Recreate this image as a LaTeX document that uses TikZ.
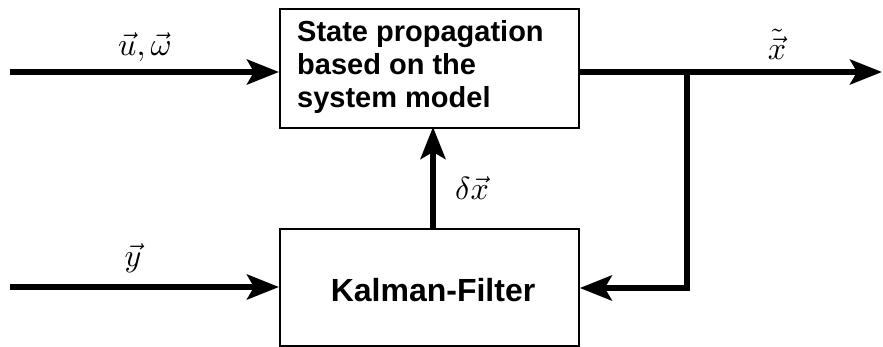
\documentclass[tikz,border=0pt]{standalone}
\usepackage{graphicx}
\usepackage{fontspec}
\setsansfont{Liberation Sans}
\usetikzlibrary{arrows.meta}
\newcommand{\mylbl}[1]{\scalebox{3.2}{$#1$}}
\begin{document}
\begin{tikzpicture}[x=1pt,y=-1pt,
  blockbox/.style={draw,line width=1.8pt,inner sep=0pt,anchor=north west},
  flow/.style={line width=5.5pt,-{Stealth[length=32pt,width=25pt,inset=7pt]}},
  wire/.style={line width=5.5pt,line join=round},
  lbl/.style={inner sep=0pt}]
\useasboundingbox (0,0) rectangle (883,347);
\node[blockbox,minimum width=299pt,minimum height=119pt] (sp) at (279,8) {};
\node[font=\sffamily\bfseries\fontsize{29}{33}\selectfont,align=left,anchor=north west,inner sep=0pt] (sptext) at (297,20) {State propagation\\based on the\\system model};
\node[blockbox,minimum width=299pt,minimum height=117pt] (kf) at (279,228) {};
\node[font=\sffamily\bfseries\fontsize{32}{36}\selectfont,inner sep=0pt] (kftext) at (433,290) {Kalman-Filter};
\coordinate (inA) at (10,72);
\coordinate (inB) at (10,287);
\coordinate (outE) at (882,72);
\coordinate (br) at (687,72);
\coordinate (brd) at (687,288);
\draw[flow] (inA) -- (inA -| sp.west);
\draw[flow] (inB) -- (inB -| kf.west);
\draw[flow] (sp.east |- outE) -- (outE);
\draw[wire] (br) -- (brd);
\draw[flow] ([xshift=2.75pt]brd) -- (brd -| kf.east);
\draw[flow] (433,228) -- (433,127);
\node[lbl] (lu) at (145,47) {\mylbl{\vec{u},\vec{\omega}}};
\node[lbl] (ly) at (133,258) {\mylbl{\vec{y}}};
\node[lbl] (lx) at (777,44) {\mylbl{\tilde{\vec{x}}}};
\node[lbl] (ld) at (472,188) {\mylbl{\delta\vec{x}}};
\end{tikzpicture}
\end{document}
